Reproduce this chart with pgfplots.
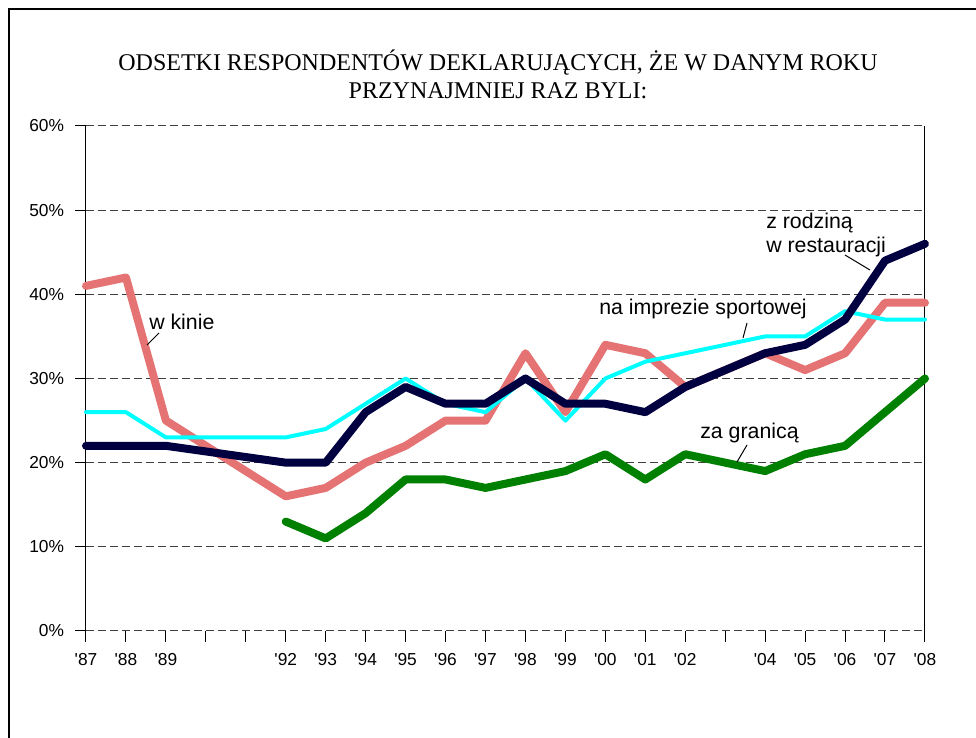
\documentclass[border=0pt]{standalone}
\usepackage{pgfplots}
\pgfplotsset{compat=1.18}
\usepackage{fontspec}
\setmainfont{Liberation Sans}
\newfontfamily\timesf{Liberation Serif}
\definecolor{salmon}{RGB}{229,115,115}
\definecolor{cyanl}{RGB}{0,255,255}
\definecolor{navy}{RGB}{0,0,64}
\definecolor{dgreen}{RGB}{0,128,0}
\newcommand{\q}{\textquotesingle}
\begin{document}
\begin{tikzpicture}
\path[use as bounding box] (0,0) rectangle (732pt,553.5pt);
\begin{axis}[
  at={(64.5pt,80.25pt)}, anchor=south west,
  scale only axis, width=629.25pt, height=378.75pt,
  xmin=1987, xmax=2008, ymin=0, ymax=60,
  axis line style={draw=none},
  tick pos=left, tick align=outside,
  major tick length=8pt,
  tick style={black, line width=0.75pt},
  xtick={1987,...,2008},
  xticklabels={\q87,\q88,\q89,,,\q92,\q93,\q94,\q95,\q96,\q97,\q98,\q99,\q00,\q01,\q02,,\q04,\q05,\q06,\q07,\q08},
  ytick={0,10,...,60},
  yticklabels={0\%,10\%,20\%,30\%,40\%,50\%,60\%},
  /pgf/number format/assume math mode=true,
  ticklabel style={font=\fontsize{13}{15}\selectfont},
  xticklabel style={yshift=-5pt},
  yticklabel style={xshift=-5pt},
  ymajorgrids,
  major grid style={black!75, line width=0.75pt, dash pattern=on 6pt off 3pt},
  clip=false,
  every axis plot/.append style={line cap=round, line join=round},
]
\draw[black, line width=0.75pt] (rel axis cs:0,0) -- (rel axis cs:0,1);
\draw[black, line width=0.75pt] (rel axis cs:1,0) -- (rel axis cs:1,1);
% w kinie
\addplot[salmon, line width=6pt] coordinates {
(1987,41) (1988,42) (1989,25) (1992,16) (1993,17) (1994,20) (1995,22) (1996,25) (1997,25) (1998,33) (1999,26) (2000,34) (2001,33) (2002,29) (2004,33) (2005,31) (2006,33) (2007,39) (2008,39)};
% na imprezie sportowej
\addplot[cyanl, line width=3pt] coordinates {
(1987,26) (1988,26) (1989,23) (1992,23) (1993,24) (1994,27) (1995,30) (1996,27) (1997,26) (1998,30) (1999,25) (2000,30) (2001,32) (2002,33) (2004,35) (2005,35) (2006,38) (2007,37) (2008,37)};
% z rodzina w restauracji
\addplot[navy, line width=6pt] coordinates {
(1987,22) (1988,22) (1989,22) (1992,20) (1993,20) (1994,26) (1995,29) (1996,27) (1997,27) (1998,30) (1999,27) (2000,27) (2001,26) (2002,29) (2004,33) (2005,34) (2006,37) (2007,44) (2008,46)};
% za granica
\addplot[dgreen, line width=6pt] coordinates {
(1992,13) (1993,11) (1994,14) (1995,18) (1996,18) (1997,17) (1998,18) (1999,19) (2000,21) (2001,18) (2002,21) (2004,19) (2005,21) (2006,22) (2007,26) (2008,30)};
\end{axis}
\begin{scope}[yshift=553.5pt, x=0.75pt, y=-0.75pt]
\draw[black, line width=1.5pt] (9,740) -- (9,9) -- (980,9);
\node[font=\timesf\fontsize{18}{21}\selectfont, align=center] at (498,74)
  {ODSETKI RESPONDENTÓW DEKLARUJĄCYCH, ŻE W DANYM ROKU\\PRZYNAJMNIEJ RAZ BYLI:};
\node[font=\fontsize{16}{19}\selectfont, anchor=west, inner sep=0pt] at (149,322) {w kinie};
\draw[black, line width=0.75pt] (147,345) -- (159,333);
\node[font=\fontsize{16}{19}\selectfont, anchor=center, inner sep=0pt] at (703,309) {na imprezie sportowej};
\draw[black, line width=0.75pt] (743,338) -- (747,323);
\node[font=\fontsize{16}{18}\selectfont, anchor=west, align=left, inner sep=0pt] at (766,235) {z rodziną\\w restauracji};
\draw[black, line width=0.75pt] (845,255) -- (870,270);
\node[font=\fontsize{16}{19}\selectfont, anchor=west, inner sep=0pt] at (700,433) {za granicą};
\draw[black, line width=0.75pt] (747,445) -- (737,462);
\end{scope}
\end{tikzpicture}
\end{document}
